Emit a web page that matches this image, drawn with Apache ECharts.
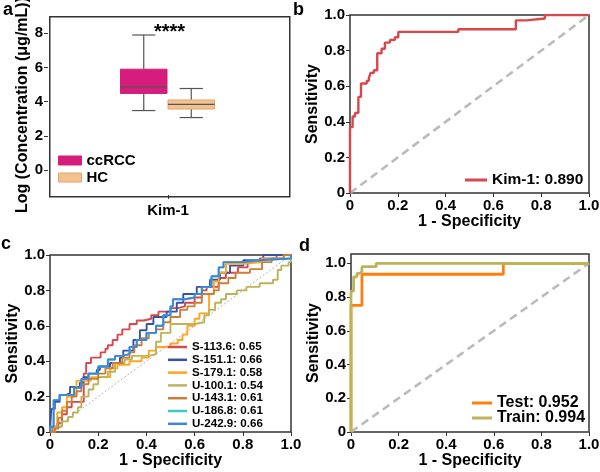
<!DOCTYPE html>
<html><head><meta charset="utf-8">
<script src="https://cdn.jsdelivr.net/npm/echarts@6/dist/echarts.min.js"></script>
<style>html,body{margin:0;padding:0;background:#fff}#c{width:600px;height:472px}</style>
</head><body><div id="c"></div>
<script>
// ---------- Panel a: box plot ----------
const boxCategory = ['Kim-1'];
const boxGroups = ['ccRCC', 'HC'];
// [min, q1, median, q3, max]
const ccrccBox = [3.48, 4.48, 4.87, 5.9, 7.9];
const hcBox = [3.07, 3.57, 3.84, 4.1, 4.77];
const boxYTicks = [0, 2, 4, 6, 8];
const boxYLabel = 'Log (Concentration (\u03bcg/mL))';
const signifText = '****';

// ---------- Panel b: Kim-1 ROC ----------
const kimName = 'Kim-1: 0.890';
const kimFpr = [0, 0, 0.011, 0.021, 0.035, 0.046, 0.07, 0.079, 0.086, 0.1, 0.114, 0.132, 0.146, 0.167, 0.188, 0.202, 0.453, 0.694, 0.738, 0.815, 1.0];
const kimTpr = [0, 0.37, 0.43, 0.45, 0.54, 0.615, 0.63, 0.645, 0.675, 0.69, 0.785, 0.81, 0.845, 0.86, 0.875, 0.905, 0.92, 0.97, 0.98, 1.0, 1.0];

// ---------- Panel c: metabolite ROCs ----------
const cNames = ['S-113.6: 0.65', 'S-151.1: 0.66', 'S-179.1: 0.58', 'U-100.1: 0.54', 'U-143.1: 0.61', 'U-186.8: 0.61', 'U-242.9: 0.66'];
const s1136Fpr = [0, 0.01, 0.03, 0.05, 0.07, 0.09, 0.14, 0.15, 0.17, 0.21, 0.23, 0.24, 0.26, 0.28, 0.30, 0.33, 0.36, 0.39, 0.42, 0.45, 0.50, 0.53, 0.56, 0.60, 0.63, 0.65, 0.70, 0.73, 0.78, 0.82, 0.87, 0.94, 1.0];
const s1136Tpr = [0, 0.03, 0.05, 0.10, 0.14, 0.17, 0.33, 0.39, 0.42, 0.45, 0.47, 0.49, 0.52, 0.55, 0.58, 0.61, 0.63, 0.64, 0.66, 0.68, 0.70, 0.71, 0.73, 0.76, 0.80, 0.82, 0.87, 0.90, 0.93, 0.96, 0.98, 1.0, 1.0];
const s1511Fpr = [0, 0.005, 0.02, 0.04, 0.069, 0.083, 0.124, 0.138, 0.159, 0.194, 0.207, 0.249, 0.29, 0.304, 0.346, 0.373, 0.401, 0.429, 0.484, 0.526, 0.553, 0.609, 0.664, 0.705, 0.747, 0.802, 0.885, 1.0];
const s1511Tpr = [0, 0.13, 0.17, 0.21, 0.22, 0.255, 0.28, 0.31, 0.33, 0.35, 0.37, 0.39, 0.42, 0.46, 0.52, 0.575, 0.61, 0.65, 0.68, 0.73, 0.78, 0.82, 0.86, 0.90, 0.94, 0.97, 1.0, 1.0];
const s1791Fpr = [0, 0.015, 0.03, 0.05, 0.07, 0.10, 0.11, 0.17, 0.25, 0.28, 0.33, 0.38, 0.41, 0.44, 0.50, 0.53, 0.55, 0.57, 0.60, 0.62, 0.66, 0.68, 0.70, 0.73, 0.80, 0.88, 0.97, 1.0];
const s1791Tpr = [0, 0.03, 0.11, 0.14, 0.20, 0.21, 0.29, 0.31, 0.36, 0.38, 0.40, 0.42, 0.46, 0.48, 0.50, 0.52, 0.55, 0.60, 0.64, 0.67, 0.78, 0.85, 0.90, 0.95, 0.96, 0.98, 1.0, 1.0];
const u1001Fpr = [0, 0.02, 0.05, 0.075, 0.095, 0.116, 0.13, 0.16, 0.18, 0.20, 0.24, 0.27, 0.31, 0.34, 0.41, 0.44, 0.46, 0.50, 0.60, 0.64, 0.66, 0.685, 0.71, 0.73, 0.775, 0.815, 0.87, 0.925, 0.945, 0.96, 0.99, 1.0];
const u1001Tpr = [0, 0.03, 0.06, 0.085, 0.11, 0.14, 0.20, 0.24, 0.27, 0.31, 0.34, 0.39, 0.41, 0.43, 0.44, 0.51, 0.56, 0.61, 0.62, 0.66, 0.69, 0.73, 0.75, 0.78, 0.80, 0.82, 0.84, 0.86, 0.915, 0.94, 0.96, 1.0];
const u1431Fpr = [0, 0.02, 0.035, 0.05, 0.07, 0.09, 0.11, 0.13, 0.16, 0.20, 0.23, 0.26, 0.30, 0.33, 0.35, 0.38, 0.41, 0.44, 0.47, 0.50, 0.54, 0.57, 0.60, 0.63, 0.68, 0.70, 0.74, 0.77, 0.83, 0.88, 0.92, 0.97, 1.0];
const u1431Tpr = [0, 0.02, 0.08, 0.12, 0.17, 0.20, 0.23, 0.27, 0.30, 0.33, 0.36, 0.39, 0.42, 0.45, 0.49, 0.53, 0.56, 0.58, 0.62, 0.65, 0.69, 0.71, 0.73, 0.78, 0.80, 0.84, 0.87, 0.90, 0.92, 0.96, 0.98, 1.0, 1.0];
const u1868Fpr = [0, 0, 0.015, 0.04, 0.07, 0.10, 0.13, 0.16, 0.20, 0.24, 0.27, 0.30, 0.33, 0.36, 0.40, 0.44, 0.47, 0.50, 0.51, 0.56, 0.60, 0.63, 0.67, 0.70, 0.72, 0.80, 0.86, 1.0];
const u1868Tpr = [0, 0.03, 0.18, 0.21, 0.21, 0.25, 0.30, 0.33, 0.37, 0.41, 0.43, 0.44, 0.48, 0.52, 0.56, 0.60, 0.66, 0.71, 0.75, 0.76, 0.78, 0.82, 0.88, 0.93, 0.96, 0.97, 0.98, 1.0];
const u2429Fpr = [0, 0, 0.015, 0.04, 0.07, 0.10, 0.13, 0.16, 0.20, 0.24, 0.27, 0.30, 0.33, 0.36, 0.40, 0.44, 0.47, 0.50, 0.51, 0.56, 0.60, 0.63, 0.67, 0.70, 0.72, 0.80, 0.86, 1.0];
const u2429Tpr = [0, 0.03, 0.18, 0.21, 0.21, 0.25, 0.30, 0.33, 0.37, 0.41, 0.43, 0.44, 0.48, 0.52, 0.56, 0.60, 0.66, 0.71, 0.75, 0.76, 0.78, 0.82, 0.88, 0.93, 0.96, 0.97, 0.98, 1.0];

// ---------- Panel d: model ROC ----------
const dNames = ['Test: 0.952', 'Train: 0.994'];
const testFpr = [0, 0, 0.046, 0.64, 1.0];
const testTpr = [0, 0.75, 0.935, 1.0, 1.0];
const trainFpr = [0, 0, 0.011, 0.025, 0.036, 0.046, 0.106, 1.0];
const trainTpr = [0, 0.835, 0.92, 0.94, 0.95, 0.98, 1.0, 1.0];

const rocTicks = [0, 0.2, 0.4, 0.6, 0.8, 1.0];
const diagX = [0, 1];
const diagY = [0, 1];
const panelLetters = ['a', 'b', 'c', 'd'];

// ---------- styling ----------
const FF = '"Liberation Sans", Arial, Helvetica, sans-serif';
const zip = (xs, ys) => xs.map((x, i) => [x, ys[i]]);
const tickFmt = v => (v === 0 ? '0' : v.toFixed(1));
const TICK_FS = 15, TITLE_FS = 16;

const cColors = ['#D6484E', '#3A52A3', '#FFA51F', '#BDB45A', '#CF7D35', '#3CC8C8', '#3D86D9'];
const cSeriesData = [
  [s1136Fpr, s1136Tpr], [s1511Fpr, s1511Tpr], [s1791Fpr, s1791Tpr], [u1001Fpr, u1001Tpr],
  [u1431Fpr, u1431Tpr], [u1868Fpr, u1868Tpr], [u2429Fpr, u2429Tpr]
];

function valueAxis(grid, opts) {
  return Object.assign({
    type: 'value', gridIndex: grid, min: 0, max: 1,
    nameLocation: 'middle',
    nameTextStyle: { fontFamily: FF, fontWeight: 'bold', fontSize: TITLE_FS, color: '#000' },
    axisLine: { show: false, onZero: false },
    splitLine: { show: false },
    axisTick: { show: true, customValues: rocTicks, length: 4, lineStyle: { color: '#333', width: 1 } },
    axisLabel: { customValues: rocTicks, formatter: tickFmt, fontFamily: FF, fontWeight: 'bold', fontSize: TICK_FS, color: '#000', margin: 5 }
  }, opts);
}

function makeBoxRenderer(borderColor) {
  return function (params, api) {
    const c = api.value(0);
    const band = api.size([1, 0])[0];
    const half = band / 2 - 0.5;
    const pMin = api.coord([c, api.value(1)]);
    const pQ1 = api.coord([c, api.value(2)]);
    const pMed = api.coord([c, api.value(3)]);
    const pQ3 = api.coord([c, api.value(4)]);
    const pMax = api.coord([c, api.value(5)]);
    const x = pMed[0];
    const ls = { stroke: '#555', lineWidth: 1.2 };
    return {
      type: 'group', children: [
        { type: 'line', shape: { x1: x, y1: pMax[1], x2: x, y2: pQ3[1] }, style: ls },
        { type: 'line', shape: { x1: x, y1: pQ1[1], x2: x, y2: pMin[1] }, style: ls },
        { type: 'line', shape: { x1: x - half / 2, y1: pMax[1], x2: x + half / 2, y2: pMax[1] }, style: ls },
        { type: 'line', shape: { x1: x - half / 2, y1: pMin[1], x2: x + half / 2, y2: pMin[1] }, style: ls },
        { type: 'rect', shape: { x: x - half, y: pQ3[1], width: 2 * half, height: pQ1[1] - pQ3[1] },
          style: { fill: api.visual('color'), stroke: borderColor, lineWidth: 1 } },
        { type: 'line', shape: { x1: x - half, y1: pMed[1], x2: x + half, y2: pMed[1] }, style: ls }
      ]
    };
  };
}

const boxColors = ['#D61D7B', '#F3C290'];
const boxBorders = ['#D61D7B', '#DDA673'];

const series = [];
// panel a boxes
[ccrccBox, hcBox].forEach((stats, i) => {
  series.push({
    type: 'custom', name: boxGroups[i], xAxisIndex: 1, yAxisIndex: 1,
    itemStyle: { color: boxColors[i], borderColor: boxBorders[i] },
    renderItem: makeBoxRenderer(boxBorders[i]),
    encode: { x: 0, y: [1, 2, 3, 4, 5] },
    data: [[i].concat(stats)]
  });
});
// panel b
series.push({ type: 'line', name: 'diagB', xAxisIndex: 2, yAxisIndex: 2, data: zip(diagX, diagY), symbol: 'none',
  lineStyle: { color: '#BBBBBB', width: 2.6, type: [8, 5] }, silent: true, z: 1 });
series.push({ type: 'line', name: kimName, xAxisIndex: 2, yAxisIndex: 2, data: zip(kimFpr, kimTpr), step: 'end',
  symbol: 'none', showSymbol: false, color: '#D9474B', lineStyle: { color: '#D9474B', width: 2.4 }, z: 3 });
// panel c
series.push({ type: 'line', name: 'diagC', xAxisIndex: 3, yAxisIndex: 3, data: zip(diagX, diagY), symbol: 'none',
  lineStyle: { color: '#A0A0A0', width: 0.8, type: [2, 2] }, silent: true, z: 1 });
cSeriesData.forEach((d, i) => {
  series.push({ type: 'line', name: cNames[i], xAxisIndex: 3, yAxisIndex: 3, data: zip(d[0], d[1]), step: 'end',
    symbol: 'none', showSymbol: false, color: cColors[i], lineStyle: { color: cColors[i], width: 1.9 }, z: 3 });
});
// panel d
series.push({ type: 'line', name: 'diagD', xAxisIndex: 4, yAxisIndex: 4, data: zip(diagX, diagY), symbol: 'none',
  lineStyle: { color: '#BBBBBB', width: 2.6, type: [8, 5] }, silent: true, z: 1 });
const dColors = ['#FF7F0E', '#BDB45A'];
[[testFpr, testTpr], [trainFpr, trainTpr]].forEach((d, i) => {
  series.push({ type: 'line', name: dNames[i], xAxisIndex: 4, yAxisIndex: 4, data: zip(d[0], d[1]), step: 'end',
    symbol: 'none', showSymbol: false, color: dColors[i], lineStyle: { color: dColors[i], width: 2.8 }, z: 3 });
});

const gridStyle = { show: true, borderColor: '#333', borderWidth: 1.5, backgroundColor: 'transparent', containLabel: false, outerBoundsMode: 'none' };
const legendText = fs => ({ fontFamily: FF, fontWeight: 'bold', fontSize: fs, color: '#000' });

// panel a frame layout (same as its grid)
const frameA = { left: 48, top: 15, width: 240, height: 180 };

const option = {
  animation: false,
  backgroundColor: '#fff',
  grid: [
    Object.assign({}, frameA, gridStyle, { show: false }),
    { left: 120, top: 15, width: 95, height: 180, show: false, outerBoundsMode: 'none' },
    Object.assign({ left: 350, top: 15, width: 239, height: 178 }, gridStyle),
    Object.assign({ left: 50, top: 255, width: 241, height: 177 }, gridStyle),
    Object.assign({ left: 351, top: 254, width: 238, height: 178 }, gridStyle)
  ],
  xAxis: [
    { type: 'category', gridIndex: 0, data: boxCategory, boundaryGap: true,
      axisLine: { show: false, onZero: false }, splitLine: { show: false },
      axisTick: { show: true, alignWithLabel: true, length: 4, lineStyle: { color: '#333' } },
      axisLabel: { fontFamily: FF, fontWeight: 'bold', fontSize: 15, color: '#000', margin: 8 } },
    { type: 'category', gridIndex: 1, data: boxGroups, show: false, axisLine: { onZero: false } },
    valueAxis(2, { name: '1 - Specificity', nameGap: 8 }),
    valueAxis(3, { name: '1 - Specificity', nameGap: 8 }),
    valueAxis(4, { name: '1 - Specificity', nameGap: 8 })
  ],
  yAxis: [
    { type: 'value', gridIndex: 0, min: -1.46, max: 9.07, name: boxYLabel, nameLocation: 'middle', nameGap: 15,
      nameTextStyle: { fontFamily: FF, fontWeight: 'bold', fontSize: TITLE_FS, color: '#000' },
      axisLine: { show: false, onZero: false }, splitLine: { show: false },
      axisTick: { show: true, customValues: boxYTicks, length: 4, lineStyle: { color: '#333' } },
      axisLabel: { customValues: boxYTicks, fontFamily: FF, fontWeight: 'bold', fontSize: 15, color: '#000', margin: 5 } },
    { type: 'value', gridIndex: 1, min: -1.46, max: 9.07, show: false, splitLine: { show: false } },
    valueAxis(2, { name: 'Sensitivity', nameGap: 21 }),
    valueAxis(3, { name: 'Sensitivity', nameGap: 19 }),
    valueAxis(4, { name: 'Sensitivity', nameGap: 24, max: 1.055 })
  ],
  legend: [
    { data: [
        { name: boxGroups[0], itemStyle: { color: boxColors[0], borderColor: boxBorders[0], borderWidth: 1 } },
        { name: boxGroups[1], itemStyle: { color: boxColors[1], borderColor: boxBorders[1], borderWidth: 1 } }],
      orient: 'vertical', left: 58, top: 153, icon: 'rect', itemWidth: 23, itemHeight: 9, itemGap: 2,
      selectedMode: false, textStyle: legendText(15), padding: 0 },
    { data: [kimName], orient: 'vertical', left: 465, top: 172, icon: 'rect', itemWidth: 22, itemHeight: 3,
      selectedMode: false, textStyle: legendText(15.5), padding: 0 },
    { data: cNames, orient: 'vertical', left: 168, top: 341, icon: 'rect', itemWidth: 19, itemHeight: 2.5, itemGap: 0.8,
      selectedMode: false, textStyle: legendText(11.6), padding: 0 },
    { data: dNames, orient: 'vertical', left: 472, top: 395, icon: 'rect', itemWidth: 20, itemHeight: 3, itemGap: -1,
      selectedMode: false, textStyle: legendText(16), padding: 0 }
  ],
  graphic: [
    { type: 'rect', left: frameA.left - 0.75, top: frameA.top - 0.75, z: 10, silent: true,
      shape: { width: frameA.width, height: frameA.height },
      style: { fill: 'none', stroke: '#333', lineWidth: 1.5 } },
    { type: 'text', left: 3, top: 1, style: { text: panelLetters[0], font: 'bold 18px ' + FF, fill: '#000' } },
    { type: 'text', left: 293, top: 1, style: { text: panelLetters[1], font: 'bold 18px ' + FF, fill: '#000' } },
    { type: 'text', left: 1, top: 235, style: { text: panelLetters[2], font: 'bold 18px ' + FF, fill: '#000' } },
    { type: 'text', left: 299, top: 237, style: { text: panelLetters[3], font: 'bold 18px ' + FF, fill: '#000' } },
    { type: 'text', left: 154, top: 22, style: { text: signifText, font: 'bold 20px ' + FF, fill: '#000' } }
  ],
  series: series
};

const chart = echarts.init(document.getElementById('c'), null, { renderer: 'canvas' });
chart.setOption(option);
</script>
</body></html>
